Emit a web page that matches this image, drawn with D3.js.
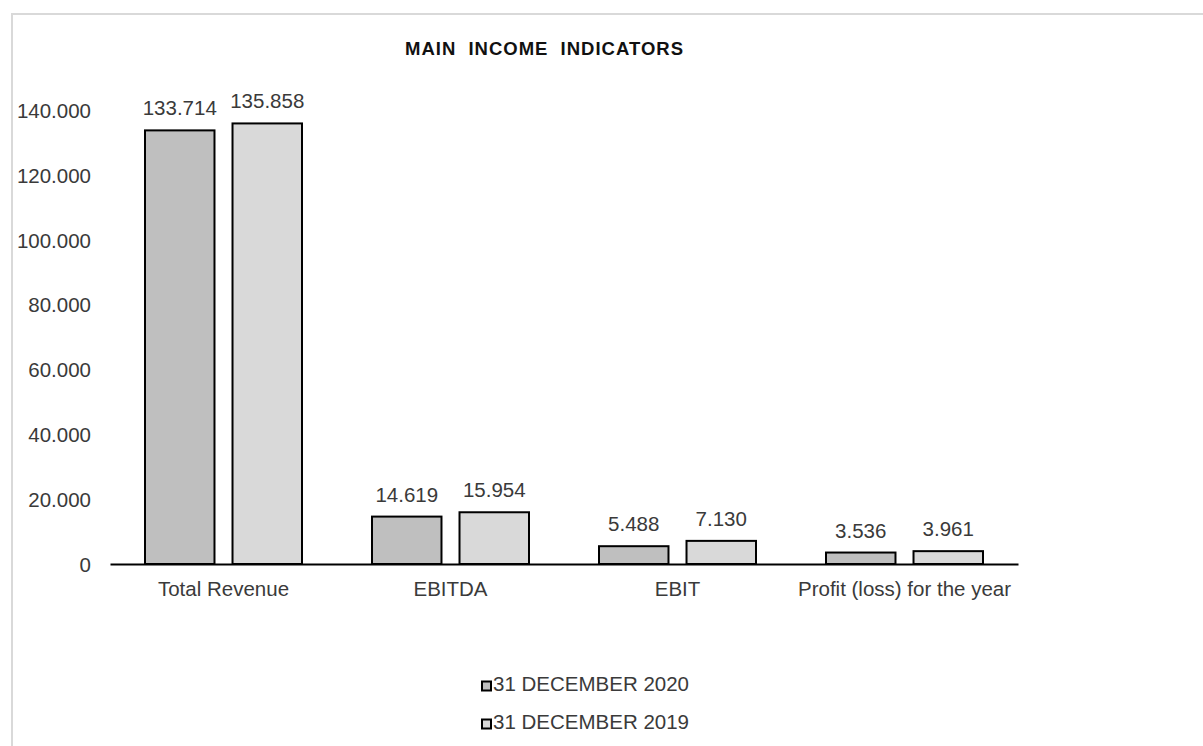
<!DOCTYPE html>
<html>
<head>
<meta charset="utf-8">
<script src="https://cdn.jsdelivr.net/npm/d3@7"></script>
<style>
  html, body { margin: 0; padding: 0; background: #fff; }
  svg { display: block; }
  text { font-family: "Liberation Sans", Arial, sans-serif; }
</style>
</head>
<body>
<svg id="chart" width="1203" height="746"></svg>
<script>
// Main income indicators, values in thousands
const categories = ["Total Revenue", "EBITDA", "EBIT", "Profit (loss) for the year"];
const seriesNames = ["31 DECEMBER 2020", "31 DECEMBER 2019"];
const values2020 = [133714, 14619, 5488, 3536];
const values2019 = [135858, 15954, 7130, 3961];
const valueLabels2020 = ["133.714", "14.619", "5.488", "3.536"];
const valueLabels2019 = ["135.858", "15.954", "7.130", "3.961"];
const yTicks = [0, 20000, 40000, 60000, 80000, 100000, 120000, 140000];
const yTickLabels = ["0", "20.000", "40.000", "60.000", "80.000", "100.000", "120.000", "140.000"];
const seriesColors = ["#bfbfbf", "#d9d9d9"];

const FONT = 20.5;
const TEXT_COLOR = "#3a3a3a";

const svg = d3.select("#chart");

// outer chart frame
svg.append("rect")
  .attr("x", 12).attr("y", 14)
  .attr("width", 1220).attr("height", 760)
  .attr("fill", "none")
  .attr("stroke", "#d9d9d9")
  .attr("stroke-width", 2);

const plot = { left: 110, right: 1018, top: 110, bottom: 564 };

const x = d3.scaleBand()
  .domain(categories)
  .range([plot.left, plot.right])
  .paddingInner(0)
  .paddingOuter(0);

const x1 = d3.scaleBand()
  .domain(seriesNames)
  .range([35, x.bandwidth() - 35])
  .paddingInner(0.206);

const y = d3.scaleLinear()
  .domain([0, 140000])
  .range([plot.bottom, plot.top]);

// title
svg.append("text")
  .attr("x", 544.5).attr("y", 54.5)
  .attr("text-anchor", "middle")
  .attr("font-size", 18.5)
  .attr("font-weight", "bold")
  .attr("fill", "#111")
  .style("letter-spacing", "1px")
  .style("word-spacing", "6px")
  .text("MAIN INCOME INDICATORS");

// y axis labels (no axis line)
const yAxis = d3.axisLeft(y)
  .tickValues(yTicks)
  .tickFormat((d, i) => yTickLabels[i])
  .tickSize(0)
  .tickPadding(0);

const gy = svg.append("g")
  .attr("transform", `translate(91,0)`)
  .call(yAxis);
gy.select(".domain").remove();
gy.selectAll("text")
  .attr("font-size", FONT)
  .attr("fill", TEXT_COLOR)
  .attr("dy", "0.36em")
  .style("font-family", "'Liberation Sans', Arial, sans-serif");

// bars
const rows = categories.map((c, i) => ({
  cat: c,
  items: [
    { s: seriesNames[0], v: values2020[i], lab: valueLabels2020[i], color: seriesColors[0] },
    { s: seriesNames[1], v: values2019[i], lab: valueLabels2019[i], color: seriesColors[1] }
  ]
}));

const groups = svg.selectAll("g.cat")
  .data(rows)
  .join("g")
  .attr("class", "cat")
  .attr("transform", d => `translate(${x(d.cat)},0)`);

groups.selectAll("rect")
  .data(d => d.items)
  .join("rect")
  .attr("x", d => x1(d.s))
  .attr("y", d => y(d.v))
  .attr("width", x1.bandwidth())
  .attr("height", d => y(0) - y(d.v))
  .attr("fill", d => d.color)
  .attr("stroke", "#000")
  .attr("stroke-width", 2);

groups.selectAll("text.val")
  .data(d => d.items)
  .join("text")
  .attr("class", "val")
  .attr("x", d => x1(d.s) + x1.bandwidth() / 2)
  .attr("y", d => y(d.v) - 15)
  .attr("text-anchor", "middle")
  .attr("font-size", FONT)
  .attr("fill", TEXT_COLOR)
  .text(d => d.lab);

// x axis baseline and category labels
const xAxis = d3.axisBottom(x).tickSize(0).tickPadding(0);
const gx = svg.append("g")
  .attr("transform", `translate(0,${plot.bottom})`)
  .call(xAxis);
gx.select(".domain")
  .attr("stroke", "#000")
  .attr("stroke-width", 2);
gx.selectAll("text")
  .attr("y", 32)
  .attr("dy", 0)
  .attr("font-size", FONT)
  .attr("fill", TEXT_COLOR)
  .style("font-family", "'Liberation Sans', Arial, sans-serif");

// legend
const legend = svg.append("g").attr("transform", "translate(481,680)");
const li = legend.selectAll("g")
  .data(seriesNames)
  .join("g")
  .attr("transform", (d, i) => `translate(0,${i * 38})`);
li.append("rect")
  .attr("x", 1).attr("y", 1.5)
  .attr("width", 9).attr("height", 9)
  .attr("fill", (d, i) => seriesColors[i])
  .attr("stroke", "#000")
  .attr("stroke-width", 2);
li.append("text")
  .attr("x", 12).attr("y", 11)
  .attr("font-size", FONT)
  .attr("fill", TEXT_COLOR)
  .text(d => d);
</script>
</body>
</html>
